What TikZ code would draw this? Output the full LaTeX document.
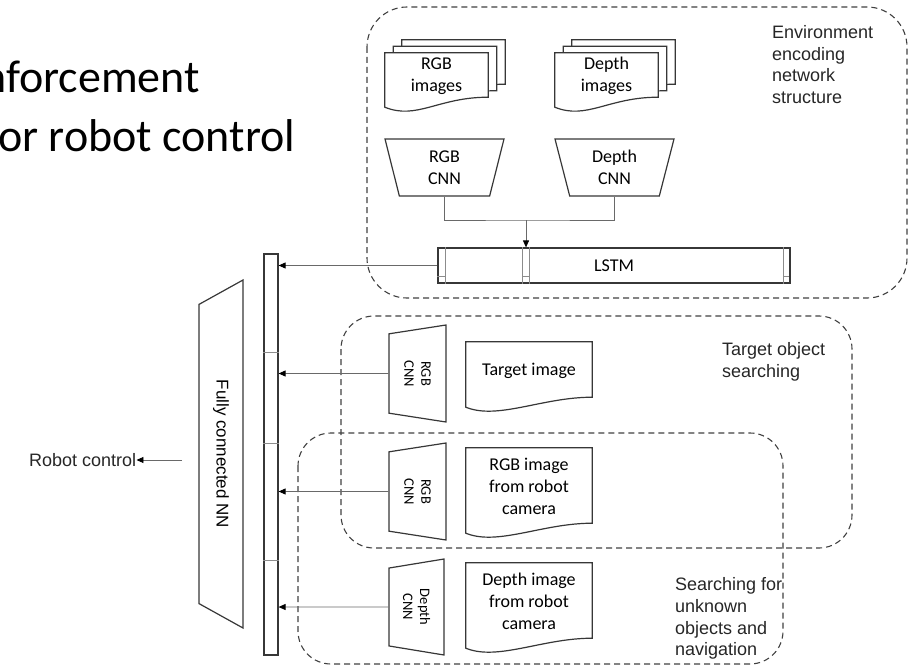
\documentclass[tikz,border=0pt]{standalone}
\usepackage{fontspec}
\setmainfont{Carlito}
\newfontfamily\labelfont{Liberation Sans}
\usetikzlibrary{positioning}
\usetikzlibrary{arrows.meta}
\usetikzlibrary{shapes.geometric,calc,backgrounds}
\definecolor{linegray}{RGB}{55,55,55}
\definecolor{conngray}{RGB}{105,105,105}
\tikzset{shapeline/.style={draw=linegray,line width=1.2pt},
  cnn/.style={trapezium,shape border rotate=180,trapezium stretches body,shapeline,fill=white,inner sep=0pt,align=center,font=\fontsize{18}{22}\selectfont},
  side cnn/.style={cnn,rotate=-90},
  doc/.style={inner sep=0pt,align=center,font=\fontsize{18}{22}\selectfont},
  stack/.style={doc,minimum width=103pt,minimum height=46pt,execute at begin node={\rule{0pt}{23pt}}},
  group box/.style={draw=black!75,line width=1.1pt,dash pattern=on 6pt off 4pt},
  note/.style={inner sep=0pt,align=left,text=black!85,font=\labelfont\fontsize{18}{21.7}\selectfont},
  conn/.style={draw=conngray,line width=0.9pt},
  feed/.style={conn,-{Triangle[length=7pt,width=6pt,color=black]}},
  cell/.style={draw=black!45,line width=0.8pt},}
% outline of a paper sheet round a node (shifted right #2, up #3), wavy lower edge
\newcommand\docsheet[3]{\draw[shapeline,fill=white] ([xshift=#2,yshift=#3]#1.north west) -- ([xshift=#2,yshift=#3]#1.north east)
  -- ([xshift=#2,yshift=#3+2pt]#1.south east)
  .. controls ([xshift=#2-50pt,yshift=#3+2pt]#1.south east) and ([xshift=#2+32pt,yshift=#3-21pt]#1.south west)
  .. ([xshift=#2,yshift=#3-8pt]#1.south west) -- cycle;}

\begin{document}
\begin{tikzpicture}[x=1pt,y=-1pt]
	\useasboundingbox (0,0) rectangle (910,666);

	% title, cut at the left border
	\node[anchor=base west,inner sep=0pt,font=\fontsize{46}{56}\selectfont] (title1) at (-18,93) {nforcement};
	\node[anchor=base west,inner sep=0pt,font=\fontsize{46}{56}\selectfont] (title2) at (-2,151) {or robot control};

	% groups
	\draw[group box,rounded corners=40pt] (367,7) rectangle (907,298);
	\draw[group box,rounded corners=33pt] (341,316) rectangle (852,548);
	\draw[group box,rounded corners=33pt] (298,433) rectangle (783,664);
	\node[note,anchor=west] (envlbl) at (772,64.5) {Environment\\encoding\\network\\structure};
	\node[note,anchor=west] (tgtlbl) at (722,361.5) {Target object\\searching};
	\node[note,anchor=west] (explbl) at (675,618.5) {Searching for\\unknown\\objects and\\navigation};

	% environment encoding
	\node[stack] (rgbimg) at (436.5,76) {RGB\\images};
	\node[stack] (depimg) at (606.5,76) {Depth\\images};
	\node[cnn,minimum width=119pt,minimum height=57pt,trapezium angle=67] (rgbcnn) at (444.5,167.5) {RGB\\CNN};
	\node[cnn,minimum width=119pt,minimum height=57pt,trapezium angle=67] (depcnn) at (614.5,167.5) {Depth\\CNN};
	\node[shapeline,minimum width=352pt,minimum height=35pt,inner sep=0pt,font=\fontsize{18}{22}\selectfont] (lstm) at (614,265.5) {LSTM};
	\foreach \dx in {8,85,92,346}
		\draw[cell] ([xshift=\dx pt]lstm.north west) -- ([xshift=\dx pt]lstm.south west);
	\foreach \a/\b in {0/8,85/92,346/352}
		\draw[cell] ([xshift=\a pt,yshift=7pt]lstm.south west) -- ([xshift=\b pt,yshift=7pt]lstm.south west);
	\coordinate (merge) at (526,220);
	\draw[conn] (rgbcnn) |- (merge) -| (depcnn);
	\draw[feed] (merge) -- (merge |- lstm.north);

	% target and camera inputs
	\node[side cnn,minimum width=97pt,minimum height=57pt,trapezium angle=71.6,font=\fontsize{14.5}{17}\selectfont] (tgtcnn) at (417.5,373.5) {RGB\\CNN};
	\node[side cnn,minimum width=97pt,minimum height=57pt,trapezium angle=71.6,font=\fontsize{14.5}{17}\selectfont] (camcnn) at (417.5,491.5) {RGB\\CNN};
	\node[side cnn,minimum width=96pt,minimum height=55pt,trapezium angle=71.6,font=\fontsize{14.5}{17}\selectfont] (dcamcnn) at (416.5,607) {Depth\\CNN};
	\node[doc,minimum width=126pt,minimum height=57pt] (tgtimg) at (529,370.5) {Target image};
	\node[doc,minimum width=126pt,minimum height=77pt] (camimg) at (529,486.5) {RGB image\\from robot\\camera};
	\node[doc,minimum width=126pt,minimum height=77pt] (dcamimg) at (529,601.5) {Depth image\\from robot\\camera};

	\begin{scope}[on background layer]
		\docsheet{rgbimg}{17pt}{13pt}
		\docsheet{rgbimg}{8.5pt}{6.5pt}
		\docsheet{rgbimg}{0pt}{0pt}
		\docsheet{depimg}{17pt}{13pt}
		\docsheet{depimg}{8.5pt}{6.5pt}
		\docsheet{depimg}{0pt}{0pt}
		\foreach \n in {tgtimg,camimg,dcamimg} \docsheet{\n}{0pt}{0pt};
	\end{scope}

	% concatenation and fully connected part
	\node[shapeline,minimum width=14pt,minimum height=401pt,inner sep=0pt] (bar) at (271,454.5) {};
	\foreach \dy in {99,190,307}
		\draw[cell] ([yshift=-\dy pt]bar.north west) -- ([yshift=-\dy pt]bar.north east);
	\draw[feed] (lstm) -- (lstm -| bar.east);
	\foreach \n in {tgtcnn,camcnn,dcamcnn}
		\draw[feed] (\n) -- (\n -| bar.east);
	\node[side cnn,minimum width=348pt,minimum height=44pt,trapezium angle=33,font=\labelfont\fontsize{17}{20}\selectfont] (fcnn) at (221,454) {Fully connected NN};
	\node[note,anchor=west] (ctrl) at (29,460) {Robot control};
	\coordinate (fcout) at (182,460);
	\draw[feed] (fcout) -- (ctrl);
\end{tikzpicture}
\end{document}
